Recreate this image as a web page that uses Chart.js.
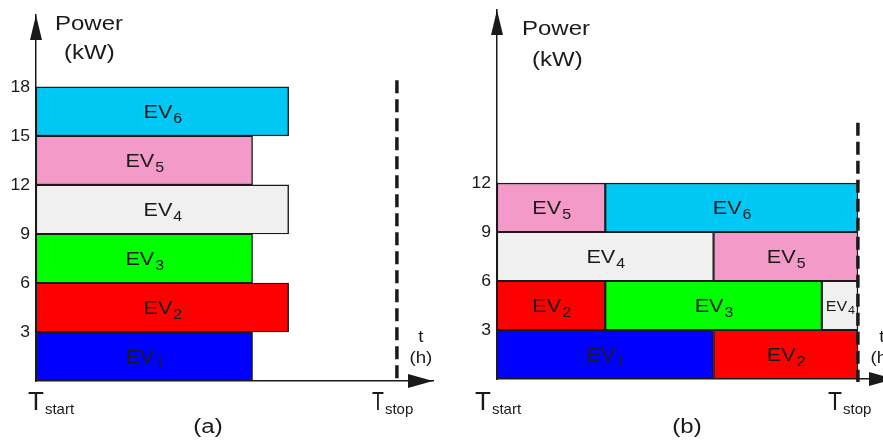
<!DOCTYPE html>
<html>
<head>
<meta charset="utf-8">
<script src="https://cdn.jsdelivr.net/npm/chart.js@4.4.1/dist/chart.umd.min.js"></script>
<style>
  body { margin: 0; background: #fff; overflow: hidden; }
  #page { position: relative; width: 883px; height: 441px; overflow: hidden; }
  #boxA { position: absolute; left: 0; top: 0; }
  #boxB { position: absolute; left: 441px; top: 0; }
</style>
</head>
<body>
<div id="page">
  <div id="boxA"><canvas id="chartA" width="441" height="441"></canvas></div>
  <div id="boxB"><canvas id="chartB" width="460" height="441"></canvas></div>
</div>
<script>
// (a) every EV charged from Tstart at 3 kW
const evA = [1, 2, 3, 4, 5, 6];
const lowA = [0, 3, 6, 9, 12, 15];
const highA = [3, 6, 9, 12, 15, 18];
const startA = [0, 0, 0, 0, 0, 0];
const endA = [0.6, 0.7, 0.6, 0.7, 0.6, 0.7];
const ticksA = [3, 6, 9, 12, 15, 18];

// (b) the same EVs shifted in time under a 12 kW cap
const evB = [1, 2, 2, 3, 4, 4, 5, 5, 6];
const lowB = [0, 0, 3, 3, 3, 6, 6, 9, 9];
const highB = [3, 3, 6, 6, 6, 9, 9, 12, 12];
const startB = [0, 0.6, 0, 0.3, 0.9, 0, 0.6, 0, 0.3];
const endB = [0.6, 1, 0.3, 0.9, 1, 0.6, 1, 0.3, 1];
const ticksB = [3, 6, 9, 12];

const tStop = 1;
const evColors = {
  1: "#0000ff",
  2: "#ff0000",
  3: "#00ff00",
  4: "#f0f0f0",
  5: "#f49ac9",
  6: "#00c8f5"
};

const FONT = '"Liberation Sans", Arial, sans-serif';
const INK = "#1a1a1a";

function drawText(ctx, str, x, y, size, sx, align) {
  ctx.font = size + "px " + FONT;
  const w = ctx.measureText(str).width * sx;
  const x0 = align === "right" ? x - w : align === "center" ? x - w / 2 : x;
  ctx.save();
  ctx.translate(x0, y);
  ctx.scale(sx, 1);
  ctx.textAlign = "left";
  ctx.fillText(str, 0, 0);
  ctx.restore();
  return w;
}

function textWidth(ctx, str, size, sx) {
  ctx.font = size + "px " + FONT;
  return ctx.measureText(str).width * sx;
}

const sketchPlugin = {
  id: "sketch",
  afterDraw(chart, args, o) {
    const ctx = chart.ctx;
    const { left, right, top, bottom } = chart.chartArea;
    const xs = chart.scales.x;
    const ys = chart.scales.y;
    ctx.save();
    ctx.fillStyle = INK;
    ctx.strokeStyle = INK;

    // arrow heads
    ctx.beginPath();
    ctx.moveTo(left, top);
    ctx.lineTo(left - 6, top + 25);
    ctx.lineTo(left + 6, top + 25);
    ctx.closePath();
    ctx.fill();
    ctx.beginPath();
    ctx.moveTo(right, bottom);
    ctx.lineTo(right - 25, bottom - 7);
    ctx.lineTo(right - 25, bottom + 7);
    ctx.closePath();
    ctx.fill();

    // T stop dashed line
    const xStop = xs.getPixelForValue(tStop);
    ctx.lineWidth = 3.5;
    ctx.setLineDash([13, 6]);
    ctx.beginPath();
    ctx.moveTo(xStop, ys.getPixelForValue(o.dashTop));
    ctx.lineTo(xStop, bottom + 3);
    ctx.stroke();
    ctx.setLineDash([]);

    // y tick labels
    ctx.textBaseline = "middle";
    o.ticks.forEach(v => {
      drawText(ctx, String(v), left - 6, ys.getPixelForValue(v) + 1, 16, 1.1, "right");
    });
    ctx.textBaseline = "alphabetic";

    // EV labels inside the bars
    const meta = chart.getDatasetMeta(0);
    meta.data.forEach((bar, i) => {
      const n = String(o.ev[i]);
      const w = Math.abs(bar.x - bar.base);
      const big = w > 60 ? 19 : 14;
      const small = w > 60 ? 14 : 11;
      const cx = (bar.x + bar.base) / 2;
      const total = textWidth(ctx, "EV", big, 1.14) + textWidth(ctx, n, small, 1.14);
      const x0 = cx - total / 2;
      const base = bar.y + big * 0.36;
      const wm = drawText(ctx, "EV", x0, base, big, 1.14, "left");
      drawText(ctx, n, x0 + wm + 1, base + big * 0.25, small, 1.14, "left");
    });

    // axis captions
    const L = o.labels;
    drawText(ctx, "Power", L.power[0], L.power[1], 20, 1.2, "left");
    drawText(ctx, "(kW)", L.kw[0], L.kw[1], 20, 1.2, "left");
    drawText(ctx, "t", xStop + 24, 342, 17, 1.1, "center");
    drawText(ctx, "(h)", xStop + 24, 363, 17, 1.1, "center");

    let w = drawText(ctx, "T", L.tStart[0], 410, 26, 1.0, "left");
    drawText(ctx, "start", L.tStart[0] + w + 1, 414, 15, 1.0, "left");
    w = drawText(ctx, "T", L.tStop[0], 410, 26, L.tStop[1], "left");
    drawText(ctx, "stop", L.tStop[0] + w + 1, 414, 15, 1.0, "left");

    drawText(ctx, o.letter, L.letter, 433, 20, 1.2, "center");
    ctx.restore();
  }
};

function makeChart(id, ev, low, high, start, end, opts) {
  const points = ev.map((e, i) => ({ x: [start[i], end[i]], y: (low[i] + high[i]) / 2 }));
  return new Chart(document.getElementById(id).getContext("2d"), {
    type: "bar",
    data: {
      datasets: [
        {
          data: points,
          backgroundColor: ev.map(e => evColors[e]),
          borderColor: INK,
          borderWidth: 1.4,
          borderSkipped: false,
          barPercentage: 1,
          categoryPercentage: 1
        }
      ]
    },
    options: {
      indexAxis: "y",
      responsive: false,
      animation: false,
      events: [],
      layout: { padding: { top: opts.padTop, right: opts.padRight, left: 0, bottom: 0 } },
      scales: {
        x: {
          type: "linear",
          min: 0,
          max: 1.1,
          grid: { display: false },
          ticks: { display: false },
          border: { color: INK, width: 1.5 },
          afterFit: s => { s.height = opts.axisHeight; }
        },
        y: {
          type: "linear",
          min: 0,
          max: opts.yMax,
          offset: false,
          grid: { display: false, offset: false },
          ticks: { display: false },
          border: { color: INK, width: 1.5 },
          afterBuildTicks: s => { s.ticks = [0].concat(opts.ticks).map(v => ({ value: v })); },
          afterFit: s => { s.width = opts.axisWidth; }
        }
      },
      plugins: {
        legend: { display: false },
        tooltip: { enabled: false },
        sketch: {
          ev: ev,
          ticks: opts.ticks,
          dashTop: opts.dashTop,
          letter: opts.letter,
          labels: opts.labels
        }
      }
    },
    plugins: [sketchPlugin]
  });
}

makeChart("chartA", evA, lowA, highA, startA, endA, {
  padTop: 15, padRight: 8, axisWidth: 36, axisHeight: 60, yMax: 22.4,
  ticks: ticksA, dashTop: 18.4, letter: "(a)",
  labels: { power: [55, 29.5], kw: [64, 59], tStart: [28], tStop: [372, 0.75], letter: 208 }
});

makeChart("chartB", evB, lowB, highB, startB, endB, {
  padTop: 10, padRight: 7, axisWidth: 56, axisHeight: 62, yMax: 22.6,
  ticks: ticksB, dashTop: 15.7, letter: "(b)",
  labels: { power: [81, 35], kw: [91, 66], tStart: [34], tStop: [387, 0.88], letter: 246 }
});
</script>
</body>
</html>
